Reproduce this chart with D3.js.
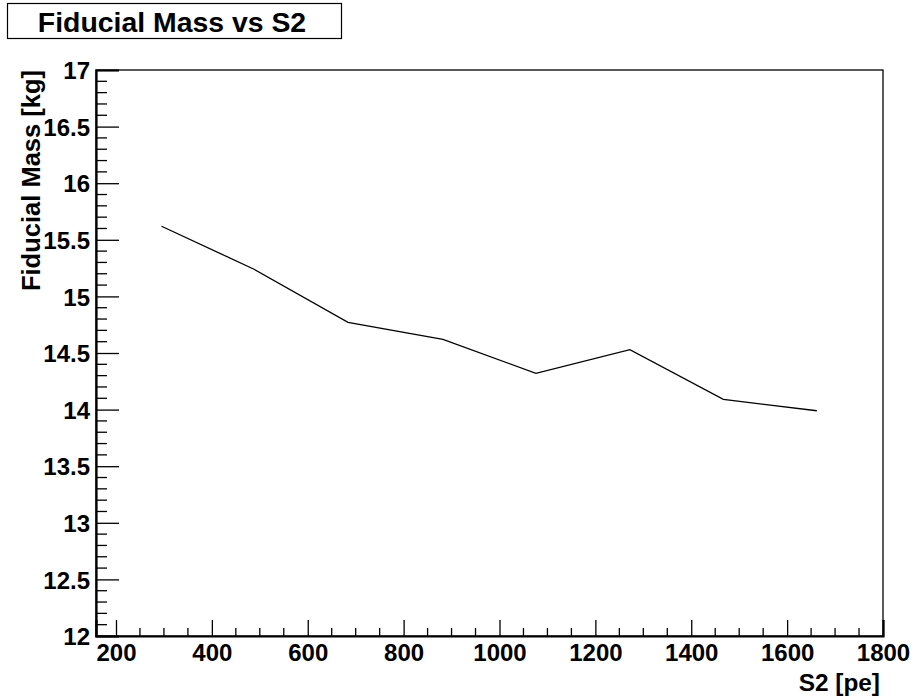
<!DOCTYPE html>
<html>
<head>
<meta charset="utf-8">
<script src="https://cdn.jsdelivr.net/npm/d3@7"></script>
<style>
  html, body { margin: 0; padding: 0; background: #fff; }
  svg text { font-family: "Liberation Sans", Arial, Helvetica, sans-serif; font-weight: bold; fill: #000; }
</style>
</head>
<body>
<svg id="chart" width="914" height="698"></svg>
<script>
// S2 threshold [pe] and the fiducial mass [kg] obtained at each threshold
const s2Values = [295, 488, 684, 882, 1076, 1272, 1467, 1662];
const fiducialMass = [15.62, 15.24, 14.77, 14.62, 14.32, 14.53, 14.09, 13.99];

const xMajorTicks = [200, 400, 600, 800, 1000, 1200, 1400, 1600, 1800];
const yMajorTicks = [12, 12.5, 13, 13.5, 14, 14.5, 15, 15.5, 16, 16.5, 17];
const xDomain = [158.3, 1800];
const yDomain = [12, 17];

const titleText = "Fiducial Mass vs S2";
const xTitle = "S2 [pe]";
const yTitle = "Fiducial Mass [kg]";

const frame = { left: 96, right: 883, top: 70, bottom: 636 };

const svg = d3.select("#chart");

const x = d3.scaleLinear().domain(xDomain).range([frame.left, frame.right]);
const y = d3.scaleLinear().domain(yDomain).range([frame.bottom, frame.top]);

// minor tick positions: every 50 on x, every 0.1 on y
const xMinor = d3.range(0, 37).map(i => 150 + i * 50)
  .filter(v => v >= xDomain[0] && v <= xDomain[1] && !xMajorTicks.includes(v));
const yMinor = d3.range(0, 51).map(i => +(12 + i * 0.1).toFixed(1))
  .filter(v => !yMajorTicks.includes(v));

// frame (top and right edges)
svg.append("rect")
  .attr("x", frame.left).attr("y", frame.top)
  .attr("width", frame.right - frame.left).attr("height", frame.bottom - frame.top)
  .attr("fill", "none").attr("stroke", "#000").attr("stroke-width", 1.3);

// x axis: ticks point up into the frame
const xAxis = d3.axisBottom(x).tickValues(xMajorTicks).tickSize(-16).tickPadding(0)
  .tickFormat(d3.format("d"));
const gx = svg.append("g").attr("transform", `translate(0,${frame.bottom})`).call(xAxis);
gx.select(".domain").attr("stroke-width", 2.2);
gx.selectAll(".tick line").attr("stroke-width", 1.3);
gx.selectAll(".tick text").attr("font-size", 24).attr("y", 25).attr("dy", 0)
  .style("font-family", "Liberation Sans, Arial, sans-serif").style("font-weight", "bold");
gx.selectAll(".minor").data(xMinor).enter().append("line").attr("class", "minor")
  .attr("x1", d => x(d)).attr("x2", d => x(d)).attr("y1", 0).attr("y2", -8)
  .attr("stroke", "#000").attr("stroke-width", 1.3);

// y axis: ticks point right into the frame
const yAxis = d3.axisLeft(y).tickValues(yMajorTicks).tickSize(-23).tickPadding(0)
  .tickFormat(d => d3.format("")(d));
const gy = svg.append("g").attr("transform", `translate(${frame.left},0)`).call(yAxis);
gy.select(".domain").attr("stroke-width", 2.2);
gy.selectAll(".tick line").attr("stroke-width", 1.3);
gy.selectAll(".tick text").attr("font-size", 24).attr("x", -6).attr("dy", "0.36em")
  .style("font-family", "Liberation Sans, Arial, sans-serif").style("font-weight", "bold");
gy.selectAll(".minor").data(yMinor).enter().append("line").attr("class", "minor")
  .attr("x1", 0).attr("x2", 11).attr("y1", d => y(d)).attr("y2", d => y(d))
  .attr("stroke", "#000").attr("stroke-width", 1.3);

// data curve
const line = d3.line().x(d => x(d[0])).y(d => y(d[1]));
svg.append("path")
  .datum(s2Values.map((v, i) => [v, fiducialMass[i]]))
  .attr("d", line)
  .attr("fill", "none").attr("stroke", "#000").attr("stroke-width", 1.3);

// axis titles
svg.append("text").attr("x", 880).attr("y", 691).attr("text-anchor", "end")
  .attr("font-size", 24.4).text(xTitle);
svg.append("text").attr("transform", `translate(40,${frame.top}) rotate(-90)`)
  .attr("text-anchor", "end").attr("font-size", 25.5).text(yTitle);

// title box
svg.append("rect").attr("x", 7.5).attr("y", 3.5).attr("width", 334).attr("height", 35)
  .attr("fill", "#fff").attr("stroke", "#000").attr("stroke-width", 1.2);
svg.append("text").attr("x", 172).attr("y", 31.5).attr("text-anchor", "middle")
  .attr("font-size", 28.4).text(titleText);
</script>
</body>
</html>
